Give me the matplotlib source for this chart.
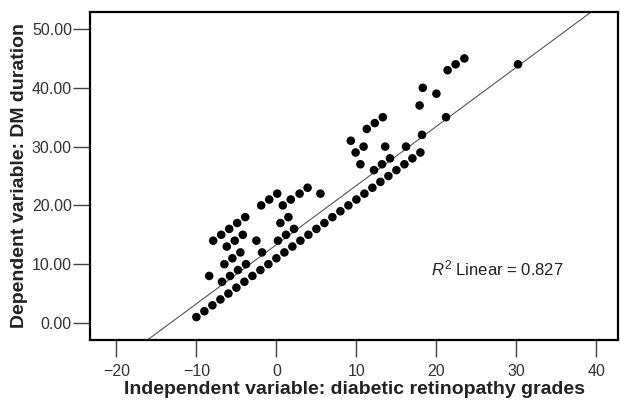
import numpy as np
import matplotlib.pyplot as plt

plt.rcParams['font.family'] = ['Liberation Sans', 'DejaVu Sans']
plt.rcParams['mathtext.fontset'] = 'custom'
plt.rcParams['mathtext.rm'] = 'Liberation Sans'
plt.rcParams['mathtext.it'] = 'Liberation Sans:italic'

# lower diagonal row of points
row_x = [-10, -9, -8, -7, -6, -5, -4, -3, -2, -1, 0, 1, 2, 3, 4, 5, 6, 7, 8, 9,
         10, 11, 12, 13, 14, 15, 16, 17, 18]
row_y = [1, 2, 3, 4, 5, 6, 7, 8, 9, 10, 11, 12, 13, 14, 15, 16, 17, 18, 19, 20,
         21, 22, 23, 24, 25, 26, 27, 28, 29]

# points on / above the fit line
other_x = [-6.8, -5.8, -4.8, -3.8, -1.8, 0.2, 1.2, 2.2, 12.2, 13.2, 14.2,
           16.2, 18.2, 21.2, 30.2,
           -8.4, -6.5, -5.5, -4.5, -6.2, -5.2, -4.2,
           -7.9, -6.9, -5.9, -4.9, -3.9, -2.5,
           -1.9, -0.9, 0.1, 0.8, 1.8, 2.9, 3.9, 5.5, 0.5, 1.5,
           9.3, 9.9, 10.9, 10.5, 11.3, 12.3, 13.3, 13.6,
           17.9, 18.3, 20.0, 21.4, 22.4, 23.5]
other_y = [7, 8, 9, 10, 12, 14, 15, 16, 26, 27, 28,
           30, 32, 35, 44,
           8, 10, 11, 12, 13, 14, 15,
           14, 15, 16, 17, 18, 14,
           20, 21, 22, 20, 21, 22, 23, 22, 17, 18,
           31, 29, 30, 27, 33, 34, 35, 30,
           37, 40, 39, 43, 44, 45]

# linear fit
slope, intercept = 1.006, 13.32
r2 = 0.827

fig, ax = plt.subplots(figsize=(6.2, 4.01), dpi=100)
fig.subplots_adjust(left=90/620, right=618/620, bottom=1-340/401, top=1-12/401)

ax.scatter(row_x + other_x, row_y + other_y, s=38, c='black', edgecolors='none', zorder=3)

xlim = (-23.3, 42.7)
ax.set_xlim(xlim)
ax.set_ylim(-2.9, 52.9)
lx = np.array(xlim)
ax.plot(lx, slope * lx + intercept, color='#555555', lw=0.8, zorder=2)

ax.text(19.3, 9.2, rf'$R^2$ Linear = {r2:.3f}', fontsize=12, color='#222222', va='center')

ax.set_xticks([-20, -10, 0, 10, 20, 30, 40])
ax.set_xticklabels(['\u221220', '\u221210', '0', '10', '20', '30', '40'])
ax.set_yticks([0, 10, 20, 30, 40, 50])
ax.set_yticklabels([f'{v:.2f}' for v in [0, 10, 20, 30, 40, 50]])
ax.tick_params(axis='x', length=12, width=1, color='#444444', labelsize=11.5,
               labelcolor='#333333', pad=5)
ax.tick_params(axis='y', length=12, width=1, color='#444444', labelsize=11.5,
               labelcolor='#333333', pad=1)
for sp in ax.spines.values():
    sp.set_linewidth(1.6)
    sp.set_color('black')

ax.set_xlabel('Independent variable: diabetic retinopathy grades', fontsize=14,
              fontweight='bold', color='#222222', labelpad=2)
ax.set_ylabel('Dependent variable: DM duration', fontsize=14,
              fontweight='bold', color='#222222', labelpad=3)

fig.savefig('out.png', dpi=100)
